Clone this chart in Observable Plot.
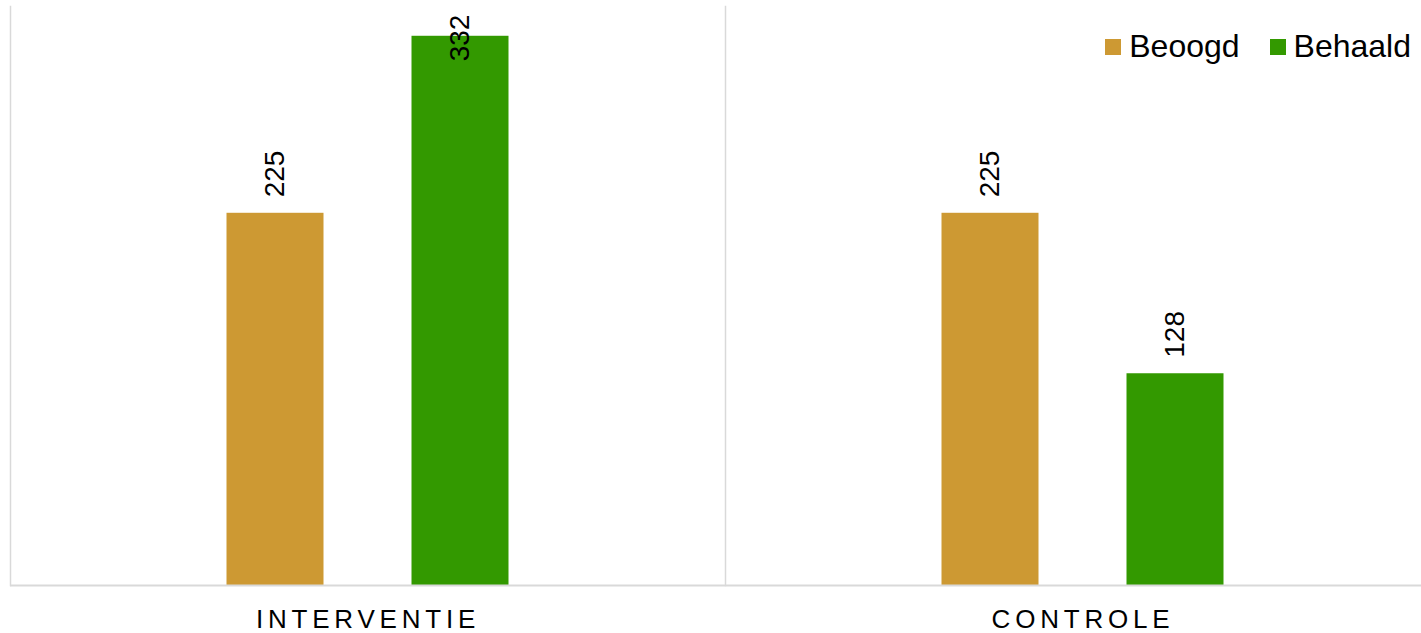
<!DOCTYPE html>
<html>
<head>
<meta charset="utf-8">
<script src="https://cdn.jsdelivr.net/npm/d3@7"></script>
<script src="https://cdn.jsdelivr.net/npm/@observablehq/plot@0.6"></script>
<style>
  html, body { margin: 0; padding: 0; background: #fff; }
  #wrap { position: relative; width: 1421px; height: 633px; overflow: hidden; font-family: "Liberation Sans", Arial, sans-serif; }
  #wrap svg { max-width: none !important; }
  #legend { position: absolute; top: 28px; right: 10px; display: flex; align-items: center; gap: 30px; font-size: 32px; color: #000; }
  #legend .item { display: flex; align-items: center; gap: 8px; }
  #legend .sw { width: 16px; height: 16px; display: inline-block; }
</style>
</head>
<body>
<div id="wrap"><div id="legend"></div></div>
<script>
const groups = ["INTERVENTIE", "CONTROLE"];
const series = ["Beoogd", "Behaald"];
const colors = ["#CD9933", "#339900"];
const beoogd = [225, 225];
const behaald = [332, 128];

const data = [];
groups.forEach((g, i) => {
  data.push({group: g, series: "Beoogd", value: beoogd[i]});
  data.push({group: g, series: "Behaald", value: behaald[i]});
});

const fits = d => d.value < 300;

const chart = Plot.plot({
  width: 1440,
  height: 633,
  marginTop: 6,
  marginBottom: 48,
  marginLeft: 9.5,
  marginRight: 0.5,
  facet: {marginTop: 0, marginRight: 0, marginBottom: 0, marginLeft: 0},
  style: {fontFamily: "'Liberation Sans', Arial, sans-serif", background: "white", color: "#000", maxWidth: "none"},
  fx: {domain: groups, padding: 0, axis: "bottom", tickSize: 0, label: null, tickPadding: 24},
  x: {domain: series, axis: null, paddingInner: 0.4757, paddingOuter: 1.17},
  y: {domain: [0, 350], axis: null},
  color: {domain: series, range: colors},
  marks: [
    Plot.frame({anchor: "left", stroke: "#d9d9d9", strokeWidth: 1.5}),
    Plot.barY(data, {fx: "group", x: "series", y: "value", fill: "series"}),
    Plot.ruleY([0], {stroke: "#d9d9d9", strokeWidth: 2}),
    Plot.text(data.filter(fits), {fx: "group", x: "series", y: "value", text: d => String(d.value),
      rotate: -90, textAnchor: "start", lineAnchor: "middle", dy: -16, fontSize: 28, fill: "#000"}),
    Plot.text(data.filter(d => !fits(d)), {fx: "group", x: "series", y: "value", text: d => String(d.value),
      rotate: -90, textAnchor: "start", lineAnchor: "middle", dy: 25, fontSize: 28, fill: "#000"})
  ]
});
chart.style.maxWidth = "none";
const fxg = chart.querySelector("g[aria-label='fx-axis tick label']");
if (fxg) { fxg.setAttribute("font-size", 26); fxg.setAttribute("letter-spacing", "4.8px"); fxg.setAttribute("fill", "#000"); }
document.getElementById("wrap").prepend(chart);

const legend = document.getElementById("legend");
series.forEach((s, i) => {
  const it = document.createElement("div");
  it.className = "item";
  it.innerHTML = `<span class="sw" style="background:${colors[i]}"></span><span>${s}</span>`;
  legend.appendChild(it);
});
</script>
</body>
</html>
